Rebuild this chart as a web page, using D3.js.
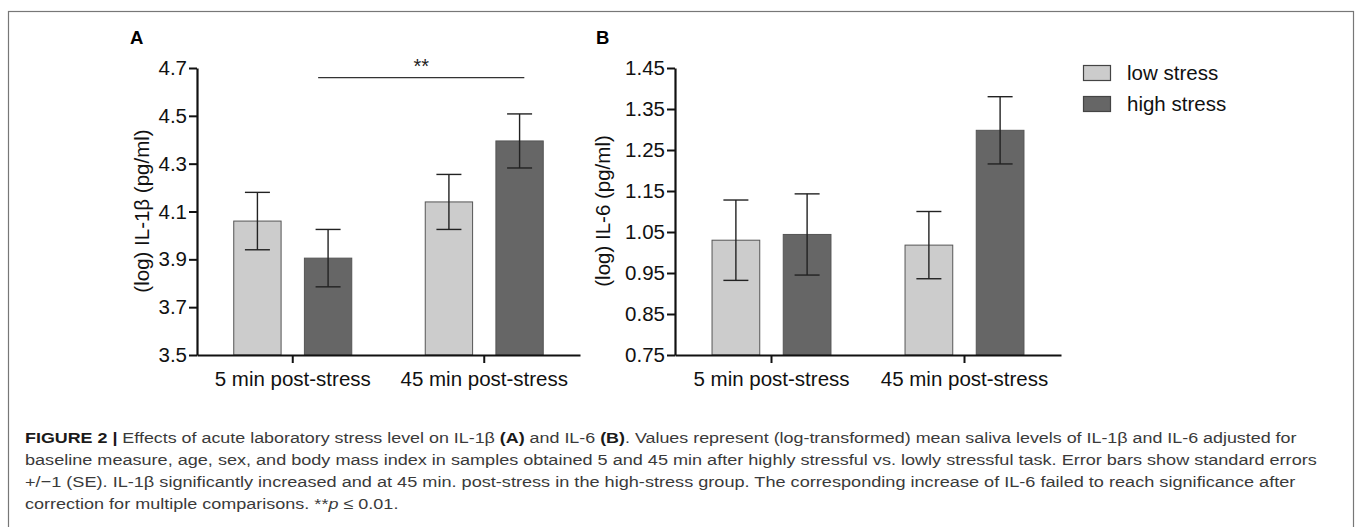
<!DOCTYPE html>
<html>
<head>
<meta charset="utf-8">
<script src="https://cdn.jsdelivr.net/npm/d3@7"></script>
<style>
  body { margin: 0; background: #fff; }
  text { font-family: "Liberation Sans", Arial, sans-serif; }
</style>
</head>
<body>
<script>
// categories and series
var groups = ["5 min post-stress", "45 min post-stress"];
var series = ["low stress", "high stress"];

// panel A: (log) IL-1beta, means and standard errors
var il1bLow = [4.06, 4.14];
var il1bHigh = [3.905, 4.395];
var il1bLowSE = [0.12, 0.115];
var il1bHighSE = [0.12, 0.113];
var il1bTicks = [3.5, 3.7, 3.9, 4.1, 4.3, 4.5, 4.7];

// panel B: (log) IL-6
var il6Low = [1.03, 1.018];
var il6High = [1.044, 1.298];
var il6LowSE = [0.098, 0.082];
var il6HighSE = [0.099, 0.082];
var il6Ticks = [0.75, 0.85, 0.95, 1.05, 1.15, 1.25, 1.35, 1.45];

var captionLines = [
    [["b", "FIGURE 2 | "], ["n", "Effects of acute laboratory stress level on IL-1β "], ["b", "(A)"], ["n", " and IL-6 "], ["b", "(B)"], ["n", ". Values represent (log-transformed) mean saliva levels of IL-1β and IL-6 adjusted for"]],
    [["n", "baseline measure, age, sex, and body mass index in samples obtained 5 and 45 min after highly stressful vs. lowly stressful task. Error bars show standard errors"]],
    [["n", "+/−1 (SE). IL-1β significantly increased and at 45 min. post-stress in the high-stress group. The corresponding increase of IL-6 failed to reach significance after"]],
    [["n", "correction for multiple comparisons. **"], ["i", "p"], ["n", " ≤ 0.01."]]
];

var colors = { "low stress": "#cccccc", "high stress": "#666666" };

var svg = d3.select("body").append("svg")
    .attr("width", 1357)
    .attr("height", 527);

// frame round the figure
svg.append("rect")
    .attr("x", 8.5).attr("y", 11.5)
    .attr("width", 1345).attr("height", 530)
    .attr("fill", "none")
    .attr("stroke", "#777")
    .attr("stroke-width", 1.2);

function drawPanel(p) {
    var x0 = d3.scaleBand().domain(groups).range(p.xRange).paddingInner(0).paddingOuter(0);
    var x1 = d3.scaleBand().domain(series).range([0, x0.bandwidth()]).paddingInner(0.33).paddingOuter(0.52);
    var y = d3.scaleLinear().domain([p.ticks[0], p.ticks[p.ticks.length - 1]]).range([355, 68]);

    var rows = [];
    groups.forEach(function(g, i) {
        rows.push({ g: g, s: series[0], v: p.low[i], se: p.lowSE[i] });
        rows.push({ g: g, s: series[1], v: p.high[i], se: p.highSE[i] });
    });

    var g = svg.append("g");

    g.selectAll(".bar")
        .data(rows)
        .enter().append("rect")
        .attr("class", "bar")
        .attr("x", function(d) { return x0(d.g) + x1(d.s); })
        .attr("width", x1.bandwidth())
        .attr("y", function(d) { return y(d.v); })
        .attr("height", function(d) { return y(p.ticks[0]) - y(d.v); })
        .attr("fill", function(d) { return colors[d.s]; })
        .attr("stroke", "#555")
        .attr("stroke-width", 1);

    // error bars
    var cap = 12.5;
    var eb = g.selectAll(".err").data(rows).enter().append("g").attr("class", "err")
        .attr("stroke", "#222").attr("stroke-width", 1.4);
    eb.append("line")
        .attr("x1", function(d) { return x0(d.g) + x1(d.s) + x1.bandwidth() / 2; })
        .attr("x2", function(d) { return x0(d.g) + x1(d.s) + x1.bandwidth() / 2; })
        .attr("y1", function(d) { return y(d.v + d.se); })
        .attr("y2", function(d) { return y(d.v - d.se); });
    [1, -1].forEach(function(sign) {
        eb.append("line")
            .attr("x1", function(d) { return x0(d.g) + x1(d.s) + x1.bandwidth() / 2 - cap; })
            .attr("x2", function(d) { return x0(d.g) + x1(d.s) + x1.bandwidth() / 2 + cap; })
            .attr("y1", function(d) { return y(d.v + sign * d.se); })
            .attr("y2", function(d) { return y(d.v + sign * d.se); });
    });

    // axes
    var xAxis = g.append("g")
        .attr("transform", "translate(0,355)")
        .call(d3.axisBottom(x0).tickSize(8).tickSizeOuter(0).tickPadding(8));
    var yAxis = g.append("g")
        .attr("transform", "translate(" + p.xRange[0] + ",0)")
        .call(d3.axisLeft(y).tickValues(p.ticks).tickFormat(d3.format(p.fmt)).tickSize(8).tickSizeOuter(0).tickPadding(2));
    [xAxis, yAxis].forEach(function(a) {
        a.select(".domain").attr("stroke", "#111").attr("stroke-width", 2.2);
        a.selectAll(".tick line").attr("stroke", "#111").attr("stroke-width", 2);
        a.selectAll(".tick text")
            .attr("fill", "#111")
            .style("font-family", "'Liberation Sans', Arial, sans-serif")
            .style("font-size", "20.5px");
    });

    // y title
    g.append("text")
        .attr("transform", "translate(" + p.titleX + ",211) rotate(-90)")
        .attr("text-anchor", "middle")
        .attr("dy", "0.35em")
        .style("font-size", "20.5px")
        .attr("fill", "#111")
        .text(p.title);

    // panel letter
    g.append("text")
        .attr("x", p.letterX).attr("y", 44)
        .style("font-size", "18.5px")
        .style("font-weight", "bold")
        .attr("fill", "#000")
        .text(p.letter);

    if (p.sig) {
        var s = p.sig;
        var bw = x1.bandwidth();
        var xa = x0(groups[s.from]) + x1(s.series) + bw * 0.29;
        var xb = x0(groups[s.to]) + x1(s.series) + bw * 0.6;
        g.append("line")
            .attr("x1", xa).attr("x2", xb)
            .attr("y1", y(s.at)).attr("y2", y(s.at))
            .attr("stroke", "#333").attr("stroke-width", 1.2);
        g.append("text")
            .attr("x", (xa + xb) / 2).attr("y", y(s.at) - 5)
            .attr("text-anchor", "middle")
            .style("font-size", "20px")
            .attr("fill", "#222")
            .text(s.label);
    }
}

drawPanel({
    letter: "A", letterX: 130, title: "(log) IL-1β (pg/ml)", titleX: 142,
    xRange: [197, 580], ticks: il1bTicks, fmt: ".1f",
    low: il1bLow, high: il1bHigh, lowSE: il1bLowSE, highSE: il1bHighSE,
    sig: { from: 0, to: 1, series: "high stress", at: 4.66, label: "**" }
});

drawPanel({
    letter: "B", letterX: 596, title: "(log) IL-6 (pg/ml)", titleX: 603,
    xRange: [675, 1061], ticks: il6Ticks, fmt: ".2f",
    low: il6Low, high: il6High, lowSE: il6LowSE, highSE: il6HighSE
});

// legend
var legend = svg.append("g").attr("transform", "translate(1083,65)");
series.forEach(function(s, i) {
    legend.append("rect")
        .attr("x", 0.5).attr("y", i * 31 + 0.5)
        .attr("width", 27).attr("height", 15)
        .attr("fill", colors[s])
        .attr("stroke", "#444").attr("stroke-width", 1.2);
    legend.append("text")
        .attr("x", 44).attr("y", i * 31 + 8)
        .attr("dy", "0.35em")
        .style("font-size", "20.5px")
        .attr("fill", "#111")
        .text(s);
});

// caption, condensed horizontally to the widths seen in the figure
var lineTargets = [1273, 1293, 1271];
var baseY = [443, 465, 487, 509];
var factors = [];
var capGroups = captionLines.map(function(parts, i) {
    var cg = svg.append("g");
    var t = cg.append("text")
        .attr("x", 0).attr("y", 0)
        .style("font-size", "15.5px")
        .attr("fill", "#3a3a3a");
    parts.forEach(function(pt) {
        var ts = t.append("tspan").text(pt[1]);
        if (pt[0] === "b") ts.style("font-weight", "bold").attr("fill", "#1a1a1a");
        if (pt[0] === "i") ts.style("font-style", "italic");
    });
    var w = t.node().getComputedTextLength();
    if (i < lineTargets.length) factors.push(lineTargets[i] / w);
    return { g: cg, w: w };
});
var meanF = d3.mean(factors);
capGroups.forEach(function(c, i) {
    var f = i < factors.length ? factors[i] : meanF;
    c.g.attr("transform", "translate(25," + baseY[i] + ") scale(" + f + ",1)");
});
</script>
</body>
</html>
